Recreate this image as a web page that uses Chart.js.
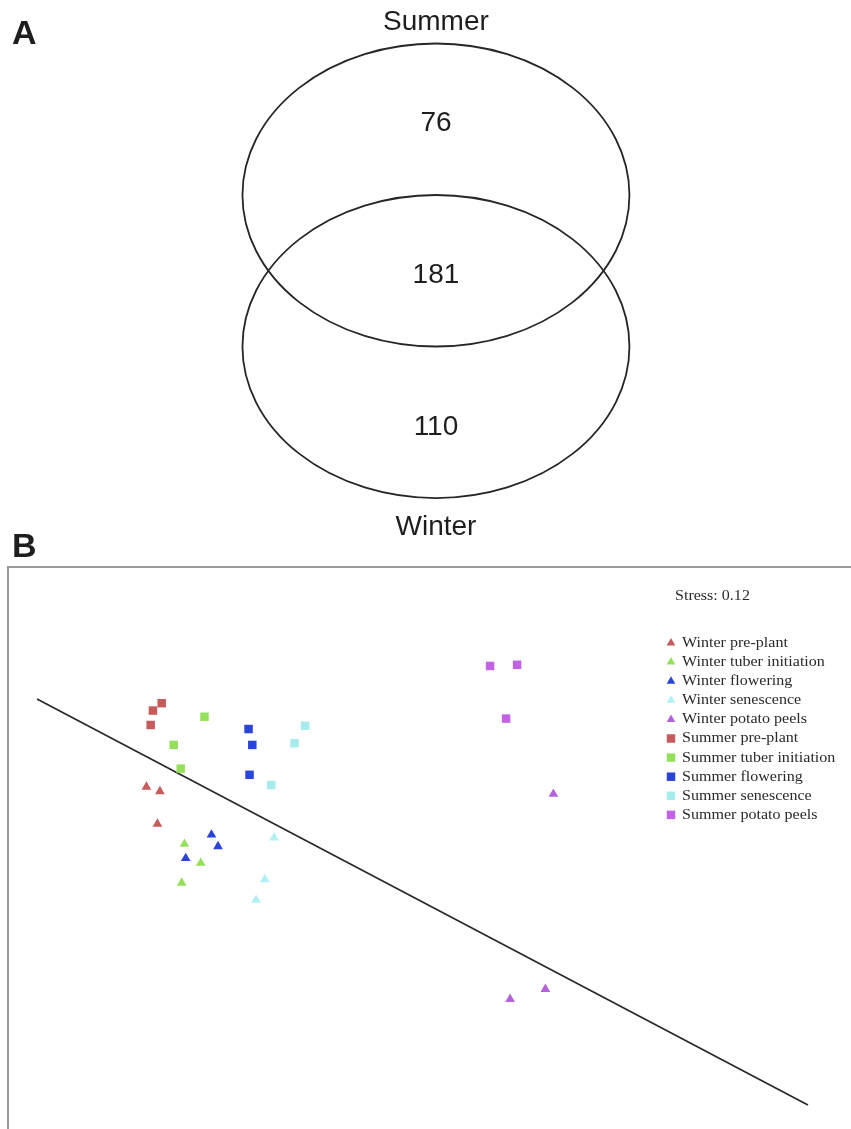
<!DOCTYPE html>
<html>
<head>
<meta charset="utf-8">
<script src="https://cdn.jsdelivr.net/npm/chart.js@4.4.0/dist/chart.umd.min.js"></script>
<style>
html,body{margin:0;padding:0;background:#fff;width:851px;height:1129px;overflow:hidden;}
#wrapA{position:absolute;left:0;top:0;width:851px;height:560px;}
#wrapB{position:absolute;left:0;top:560px;width:851px;height:569px;}
#frame{position:absolute;left:7px;top:566px;width:900px;height:700px;border:2px solid #9a9a9a;}
</style>
</head>
<body>
<div id="frame"></div>
<div id="wrapA"><canvas id="venn" width="851" height="560"></canvas></div>
<div id="wrapB"><canvas id="nmds" width="851" height="569"></canvas></div>
<script>
// ---------- Panel A data (Venn) ----------
const vennSets = ['Summer', 'Winter'];
const vennRegions = ['Summer only', 'Summer and Winter', 'Winter only'];
const vennCounts = [76, 181, 110];

// ---------- Panel B data (NMDS ordination) ----------
const seriesNames = [
  'Winter pre-plant', 'Winter tuber initiation', 'Winter flowering', 'Winter senescence', 'Winter potato peels',
  'Summer pre-plant', 'Summer tuber initiation', 'Summer flowering', 'Summer senescence', 'Summer potato peels'
];
const winterPrePlant      = [[-1.115, 0.243], [-1.061, 0.224], [-1.071, 0.087]];
const winterTuberInit     = [[-0.963, 0.002], [-0.898, -0.078], [-0.974, -0.162]];
const winterFlowering     = [[-0.855, 0.041], [-0.829, -0.008], [-0.958, -0.058]];
const winterSenescence    = [[-0.605, 0.029], [-0.642, -0.147], [-0.677, -0.234]];
const winterPotatoPeels   = [[0.511, 0.213], [0.479, -0.610], [0.338, -0.652]];
const summerPrePlant      = [[-1.054, 0.596], [-1.089, 0.565], [-1.098, 0.504]];
const summerTuberInit     = [[-0.883, 0.539], [-1.006, 0.420], [-0.978, 0.320]];
const summerFlowering     = [[-0.707, 0.487], [-0.692, 0.420], [-0.703, 0.294]];
const summerSenescence    = [[-0.481, 0.501], [-0.523, 0.427], [-0.616, 0.251]];
const summerPotatoPeels   = [[0.258, 0.753], [0.366, 0.758], [0.322, 0.531]];
const separatorLine       = [[-1.552, 0.614], [1.528, -1.099]];
const stressValue = 0.12;

// ---------- layout / style (not data) ----------
const vennLayout = {
  circles: [{cx: 0, cy: 0.5, r: 1}, {cx: 0, cy: -0.5, r: 1}],
  setLabelY: [1.64, -1.695],
  regionLabelY: [0.975, -0.03, -1.035]
};
const seriesColors = ['#c65b5b', '#94e05c', '#2a44d8', '#b2f0f4', '#b462dc',
                      '#c65b5b', '#94e05c', '#2a44d8', '#a6ecec', '#c262e4'];
const seriesStyles = ['triangle','triangle','triangle','triangle','triangle','rect','rect','rect','rect','rect'];
const seriesData = [winterPrePlant, winterTuberInit, winterFlowering, winterSenescence, winterPotatoPeels,
                    summerPrePlant, summerTuberInit, summerFlowering, summerSenescence, summerPotatoPeels];

const toXY = arr => arr.map(p => ({x: p[0], y: p[1]}));

// ---------- Panel A chart ----------
const vennPlugin = {
  id: 'vennPlugin',
  afterDraw(chart) {
    const ctx = chart.ctx, xs = chart.scales.x, ys = chart.scales.y;
    ctx.save();
    ctx.strokeStyle = '#262626';
    ctx.lineWidth = 1.8;
    vennLayout.circles.forEach(c => {
      const px = xs.getPixelForValue(c.cx), py = ys.getPixelForValue(c.cy);
      const rx = Math.abs(xs.getPixelForValue(c.cx + c.r) - px);
      const ry = Math.abs(ys.getPixelForValue(c.cy + c.r) - py);
      ctx.beginPath();
      ctx.ellipse(px, py, rx, ry, 0, 0, Math.PI * 2);
      ctx.stroke();
    });
    ctx.fillStyle = '#1e1e1e';
    ctx.textAlign = 'center';
    ctx.textBaseline = 'middle';
    ctx.font = '28px "Liberation Sans", Arial, sans-serif';
    vennSets.forEach((s, i) => {
      ctx.fillText(s, xs.getPixelForValue(0), ys.getPixelForValue(vennLayout.setLabelY[i]));
    });
    vennCounts.forEach((n, i) => {
      ctx.fillText(String(n), xs.getPixelForValue(0), ys.getPixelForValue(vennLayout.regionLabelY[i]));
    });
    // panel letters
    ctx.textAlign = 'left';
    ctx.textBaseline = 'alphabetic';
    ctx.font = 'bold 34px "Liberation Sans", Arial, sans-serif';
    ctx.fillText('A', 12, 44);
    ctx.fillText('B', 12, 557);
    ctx.restore();
  }
};

new Chart(document.getElementById('venn'), {
  type: 'scatter',
  data: { datasets: [{ label: 'venn', data: [], pointRadius: 0 }] },
  options: {
    responsive: false, animation: false, events: [],
    layout: { padding: 0, autoPadding: false },
    plugins: { legend: { display: false }, tooltip: { enabled: false } },
    scales: {
      x: { display: false, min: -2.253, max: 2.145 },
      y: { display: false, min: -1.909, max: 1.787 }
    }
  },
  plugins: [vennPlugin]
});

// ---------- Panel B chart ----------
const nmdsDatasets = seriesNames.map((name, i) => ({
  label: name,
  data: toXY(seriesData[i]),
  pointStyle: seriesStyles[i],
  pointRadius: seriesStyles[i] === 'rect' ? 6 : 5.6,
  backgroundColor: seriesColors[i],
  borderColor: seriesColors[i],
  borderWidth: 0,
  showLine: false
}));
nmdsDatasets.push({
  label: 'separator',
  data: toXY(separatorLine),
  showLine: true,
  borderColor: '#2a2a2a',
  borderWidth: 1.8,
  pointRadius: 0,
  isSeparator: true
});

const nmdsLegend = {
  id: 'nmdsLegend',
  afterDraw(chart) {
    const ctx = chart.ctx;
    ctx.save();
    ctx.fillStyle = '#2a2a2a';
    ctx.font = '15px "Liberation Serif", "Times New Roman", serif';
    ctx.textBaseline = 'middle';
    ctx.textAlign = 'left';
    const drawStretched = (txt, x, y) => {
      ctx.save();
      ctx.translate(x, y);
      ctx.scale(1.07, 1);
      ctx.fillText(txt, 0, 0);
      ctx.restore();
    };
    drawStretched('Stress: ' + stressValue.toFixed(2), 675, 36);
    let k = 0;
    chart.data.datasets.forEach(ds => {
      if (ds.isSeparator) return;
      const y = 83 + k * 19.1;
      ctx.fillStyle = ds.backgroundColor;
      ctx.strokeStyle = ds.backgroundColor;
      Chart.helpers.drawPoint(ctx, {
        pointStyle: ds.pointStyle,
        radius: ds.pointStyle === 'rect' ? 6 : 5,
        rotation: 0, borderWidth: 0
      }, 671, y);
      ctx.fillStyle = '#2a2a2a';
      drawStretched(ds.label, 682, y);
      k++;
    });
    ctx.restore();
  }
};

new Chart(document.getElementById('nmds'), {
  type: 'scatter',
  data: { datasets: nmdsDatasets },
  options: {
    responsive: false, animation: false, events: [],
    layout: { padding: 0, autoPadding: false },
    plugins: { legend: { display: false }, tooltip: { enabled: false } },
    scales: {
      x: { display: false, min: -1.7, max: 1.7 },
      y: { display: false, min: -1.2, max: 1.2 }
    }
  },
  plugins: [nmdsLegend]
});
</script>
</body>
</html>
